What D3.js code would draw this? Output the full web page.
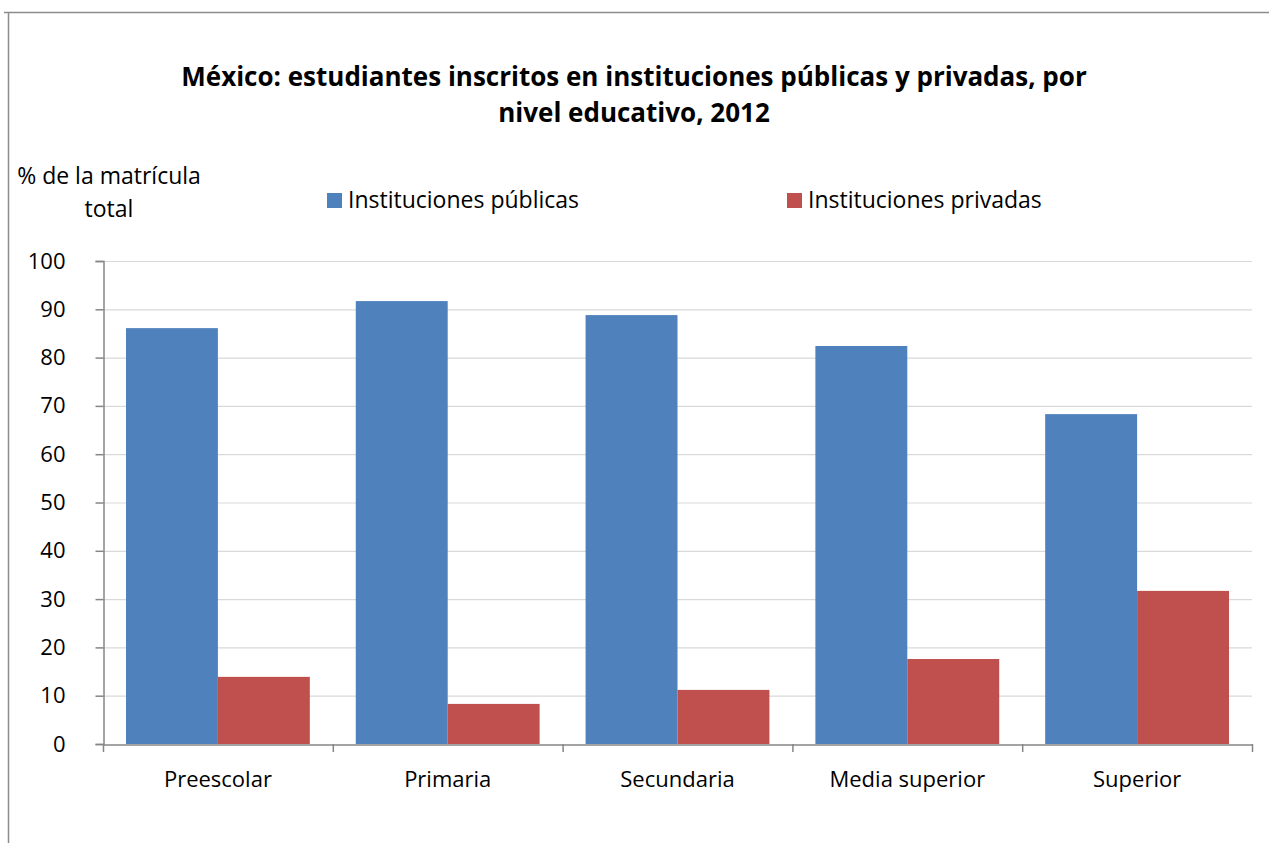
<!DOCTYPE html>
<html lang="es">
<head>
<meta charset="UTF-8">
<script src="https://cdn.jsdelivr.net/npm/d3@7"></script>
<style>
    body { margin: 0; background: #fff; }
    text { font-family: "Open Sans", sans-serif; fill: #000; }
</style>
</head>
<body>
<svg id="chart" width="1269" height="843"></svg>
<script>
    const categories = ["Preescolar", "Primaria", "Secundaria", "Media superior", "Superior"];
    const publicas = [86.1, 91.7, 88.8, 82.4, 68.3];
    const privadas = [13.9, 8.3, 11.2, 17.6, 31.7];
    const seriesNames = ["Instituciones públicas", "Instituciones privadas"];
    const seriesColors = ["#4f81bd", "#c0504d"];
    const yTicks = [0, 10, 20, 30, 40, 50, 60, 70, 80, 90, 100];

    let svg = d3.select("#chart");
    let plotLeft = 103, plotRight = 1252, plotTop = 261, plotBottom = 744;

    // outer frame (only top and left edges visible)
    svg.append("path")
        .attr("d", "M4,12.5H1269M8.5,12.5V843")
        .attr("fill", "none")
        .attr("stroke", "#8c8c8c")
        .attr("stroke-width", 1.5);

    let x = d3.scaleBand().domain(categories).range([plotLeft, plotRight]);
    let y = d3.scaleLinear().domain([0, 100]).range([plotBottom, plotTop]);

    // gridlines
    svg.append("g")
        .selectAll("line")
        .data(yTicks.slice(1))
        .join("line")
        .attr("x1", plotLeft).attr("x2", plotRight)
        .attr("y1", d => y(d) + 0.5).attr("y2", d => y(d) + 0.5)
        .attr("stroke", "#d9d9d9")
        .attr("stroke-width", 1.2);

    // bars
    let bw = x.bandwidth();
    let groups = svg.append("g")
        .selectAll("g")
        .data(categories)
        .join("g")
        .attr("transform", d => `translate(${x(d)},0)`);

    [publicas, privadas].forEach((vals, i) => {
        groups.append("rect")
            .attr("x", bw * 0.1 + i * bw * 0.4)
            .attr("width", bw * 0.4)
            .attr("y", (d, j) => y(vals[j]))
            .attr("height", (d, j) => y(0) - y(vals[j]))
            .attr("fill", seriesColors[i]);
    });

    // y axis
    let yAxis = svg.append("g")
        .attr("transform", `translate(${plotLeft + 0.5},0)`)
        .call(d3.axisLeft(y).tickValues(yTicks).tickSize(8).tickPadding(30).tickFormat(d3.format("d")));
    yAxis.select(".domain").attr("stroke", "#868686").attr("stroke-width", 1.5);
    yAxis.selectAll(".tick line").attr("stroke", "#868686").attr("stroke-width", 1.5);
    yAxis.selectAll(".tick text").attr("font-size", 22).attr("font-family", "Open Sans, sans-serif").attr("fill", "#000");

    // x axis
    let xAxis = svg.append("g")
        .attr("transform", `translate(0,${plotBottom + 0.5})`)
        .call(d3.axisBottom(x).tickSize(0).tickPadding(27));
    xAxis.select(".domain").attr("stroke", "#868686").attr("stroke-width", 1.5);
    xAxis.selectAll(".tick text").attr("font-size", 22).attr("font-family", "Open Sans, sans-serif").attr("fill", "#000");
    // category separators
    svg.append("g")
        .selectAll("line")
        .data(categories.map(c => x(c)).concat([plotRight]))
        .join("line")
        .attr("x1", d => d + 0.5).attr("x2", d => d + 0.5)
        .attr("y1", plotBottom).attr("y2", plotBottom + 8)
        .attr("stroke", "#868686")
        .attr("stroke-width", 1.5);

    // title
    let title = svg.append("text")
        .attr("text-anchor", "middle")
        .attr("font-size", 26)
        .attr("font-weight", "bold");
    title.append("tspan").attr("x", 634).attr("y", 86)
        .text("México: estudiantes inscritos en instituciones públicas y privadas, por");
    title.append("tspan").attr("x", 634).attr("y", 122)
        .text("nivel educativo, 2012");

    // y axis title
    svg.append("text").attr("x", 109).attr("y", 184).attr("text-anchor", "middle")
        .attr("font-size", 23).text("% de la matrícula");
    svg.append("text").attr("x", 109).attr("y", 217).attr("text-anchor", "middle")
        .attr("font-size", 23).text("total");

    // legend
    let legendX = [327, 787];
    let legend = svg.append("g")
        .selectAll("g")
        .data(seriesNames)
        .join("g")
        .attr("transform", (d, i) => `translate(${legendX[i]},193)`);
    legend.append("rect").attr("width", 15).attr("height", 15)
        .attr("fill", (d, i) => seriesColors[i]);
    legend.append("text").attr("x", 21).attr("y", 15)
        .attr("font-size", 23).text(d => d);
</script>
</body>
</html>
